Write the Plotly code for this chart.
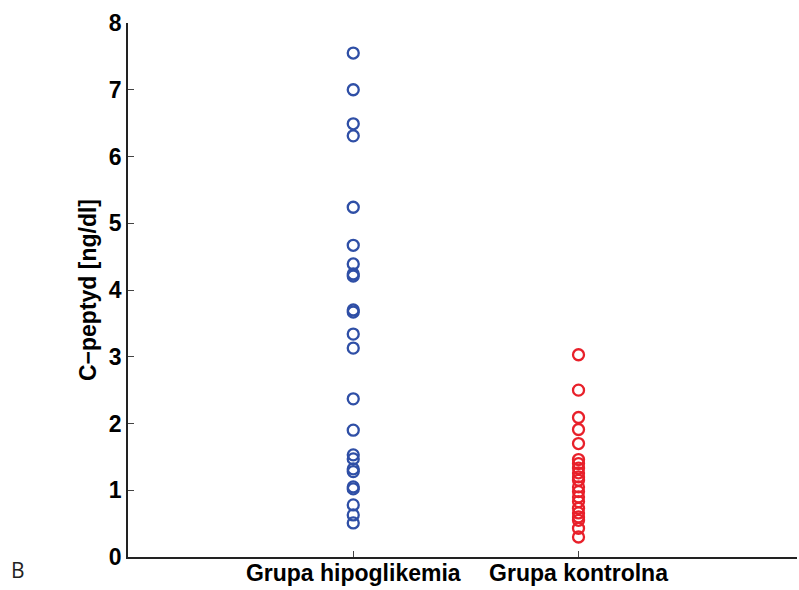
import plotly.graph_objects as go

categories = ["Grupa hipoglikemia", "Grupa kontrolna"]
hipo_values = [7.55, 7.00, 6.49, 6.31, 5.24, 4.67, 4.39, 4.24, 4.21, 3.70, 3.67,
               3.34, 3.13, 2.37, 1.90, 1.53, 1.47, 1.32, 1.28, 1.05, 1.02, 0.78,
               0.63, 0.51]
kontrol_values = [3.03, 2.50, 2.09, 1.91, 1.70, 1.46, 1.40, 1.33, 1.26, 1.20,
                  1.15, 1.05, 0.98, 0.90, 0.83, 0.73, 0.66, 0.60, 0.55, 0.43, 0.30]
y_ticks = [0, 1, 2, 3, 4, 5, 6, 7, 8]

fig = go.Figure()
fig.add_trace(go.Scatter(
    x=[1] * len(hipo_values), y=hipo_values, mode="markers",
    marker=dict(symbol="circle-open", size=11, color="#2f4fa6", line=dict(width=2.3)),
    showlegend=False, name=categories[0]))
fig.add_trace(go.Scatter(
    x=[2] * len(kontrol_values), y=kontrol_values, mode="markers",
    marker=dict(symbol="circle-open", size=11, color="#e8202a", line=dict(width=2.3)),
    showlegend=False, name=categories[1]))

fig.update_layout(
    width=799, height=590,
    margin=dict(l=128, r=2, t=23, b=33),
    paper_bgcolor="white", plot_bgcolor="white",
    font=dict(family="Liberation Sans, Arial, sans-serif", color="black"),
    xaxis=dict(range=[0, 2.97], tickvals=[1, 2], ticktext=["<b>%s</b>" % c for c in categories],
               showgrid=False, zeroline=False, showline=True, linecolor="#222", linewidth=1.5,
               ticks="inside", ticklen=6, tickcolor="#444", tickfont=dict(size=23),
               ticklabelstandoff=-5, automargin=False),
    yaxis=dict(range=[0, 8], tickvals=y_ticks, ticktext=["<b>%d</b>" % t for t in y_ticks],
               showgrid=False, zeroline=False, showline=True, linecolor="#222", linewidth=1.5,
               ticks="inside", ticklen=6, tickcolor="#444", tickfont=dict(size=23),
               automargin=False,
               title=dict(text="<b>C\u2212peptyd [ng/dl]</b>", font=dict(size=23), standoff=6)),
    annotations=[dict(text="B", xref="paper", yref="paper", x=-0.1644, y=-0.024,
                      xanchor="center", yanchor="middle", showarrow=False,
                      font=dict(family="Open Sans, sans-serif", size=21, color="#222"))],
)

fig.write_html("out.html")
